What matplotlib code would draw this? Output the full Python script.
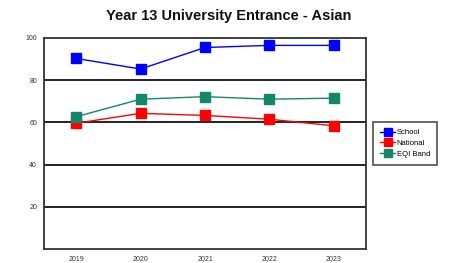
import matplotlib
matplotlib.use("Agg")
import matplotlib.pyplot as plt

years = ["2019", "2020", "2021", "2022", "2023"]
school = [90.3, 85.3, 95.5, 96.5, 96.5]
national = [59.6, 64.3, 63.3, 61.5, 58.4]
eqi_band = [62.7, 71.0, 72.2, 71.0, 71.5]
yticks = [20, 40, 60, 80, 100]

plt.rcParams['font.family'] = ['Liberation Sans', 'DejaVu Sans']

fig = plt.figure(figsize=(4.5, 2.63), dpi=100)
ax = fig.add_axes([44/450, 1-249/263, (366-44)/450, (249-38)/263])

x = list(range(len(years)))
ax.plot(x, school, color='#0000FF', marker='s', markersize=7.5, linewidth=1, label='School', zorder=5)
ax.plot(x, national, color='#FF0000', marker='s', markersize=7.5, linewidth=1, label='National', zorder=4)
ax.plot(x, eqi_band, color='#12876A', marker='s', markersize=7.5, linewidth=1, label='EQI Band', zorder=4)

ax.set_xlim(-0.5, len(years) - 0.5)
ax.set_ylim(0, 100)
ax.set_xticks(x)
ax.set_xticklabels(years)
ax.set_yticks(yticks)
for y in yticks[:-1]:
    ax.axhline(y, color='#111111', linewidth=1.3, zorder=1)
ax.tick_params(length=0, labelsize=5, colors='#333333', pad=5)
for s in ax.spines.values():
    s.set_color('#333333')
    s.set_linewidth(1.3)

title = fig.text(229/450, 1-16/263, 'Year 13 University Entrance - Asian', ha='center', va='center',
                 fontsize=10.5, fontweight='bold', color='#111111')

leg = fig.legend(loc='upper left', bbox_to_anchor=(373/450, 1-122/263), fontsize=5.5,
                 frameon=True, fancybox=False, edgecolor='#222222', handlelength=2.0,
                 handletextpad=0.2, borderpad=0.9, labelspacing=0.45, markerscale=0.75,
                 borderaxespad=0)
leg.get_frame().set_linewidth(1.2)

fig.savefig('out.png', dpi=100)
